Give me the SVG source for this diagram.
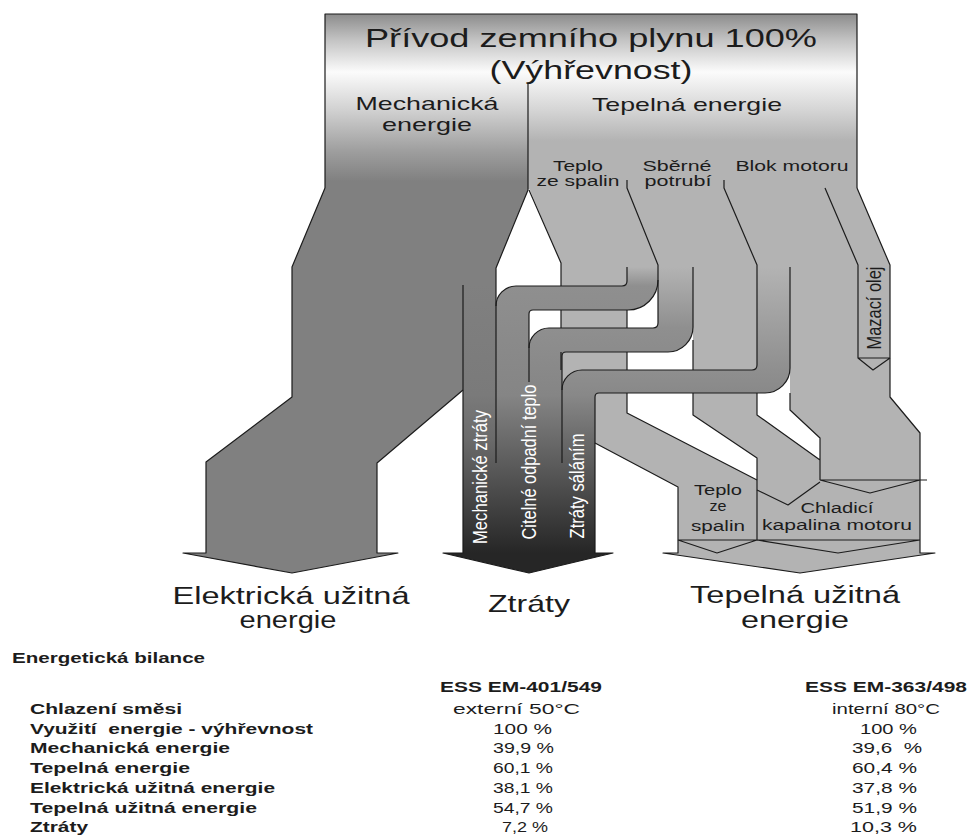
<svg xmlns="http://www.w3.org/2000/svg" width="970" height="836" viewBox="0 0 970 836">
<style>
text{font-family:"Liberation Sans",Arial,sans-serif;fill:#1c1c1c}
.t{text-anchor:middle}
.w{fill:#ffffff}
.b{font-weight:bold}
.ln{fill:none;stroke:#1c1c1c;stroke-width:1.2;stroke-linejoin:round}
.lt{fill:#b3b3b3}
</style>
<defs>
<linearGradient id="gTopL" gradientUnits="userSpaceOnUse" x1="0" y1="14" x2="0" y2="190">
<stop offset="0" stop-color="#8c8c8c"/><stop offset="0.15" stop-color="#c4c4c4"/><stop offset="0.33" stop-color="#fbfbfb"/><stop offset="0.55" stop-color="#d0d0d0"/><stop offset="0.78" stop-color="#9e9e9e"/><stop offset="0.95" stop-color="#808080"/><stop offset="1" stop-color="#808080"/>
</linearGradient>
<linearGradient id="gTopR" gradientUnits="userSpaceOnUse" x1="0" y1="14" x2="0" y2="190">
<stop offset="0" stop-color="#8c8c8c"/><stop offset="0.15" stop-color="#c4c4c4"/><stop offset="0.33" stop-color="#fbfbfb"/><stop offset="0.55" stop-color="#d4d4d4"/><stop offset="0.72" stop-color="#b3b3b3"/><stop offset="1" stop-color="#b3b3b3"/>
</linearGradient>
<linearGradient id="gMZ" gradientUnits="userSpaceOnUse" x1="0" y1="285" x2="0" y2="553">
<stop offset="0" stop-color="#808080"/><stop offset="0.41" stop-color="#7a7a7a"/><stop offset="0.58" stop-color="#6a6a6a"/><stop offset="1" stop-color="#262626"/>
</linearGradient>
<linearGradient id="gPA" gradientUnits="userSpaceOnUse" x1="0" y1="267" x2="0" y2="553">
<stop offset="0" stop-color="#b3b3b3"/><stop offset="0.066" stop-color="#8f8f8f"/><stop offset="0.448" stop-color="#858585"/><stop offset="0.605" stop-color="#6a6a6a"/><stop offset="1" stop-color="#262626"/>
</linearGradient>
<linearGradient id="gPB" gradientUnits="userSpaceOnUse" x1="0" y1="267" x2="0" y2="553">
<stop offset="0" stop-color="#b3b3b3"/><stop offset="0.213" stop-color="#8f8f8f"/><stop offset="0.448" stop-color="#858585"/><stop offset="0.605" stop-color="#6a6a6a"/><stop offset="1" stop-color="#262626"/>
</linearGradient>
<linearGradient id="gPC" gradientUnits="userSpaceOnUse" x1="0" y1="267" x2="0" y2="553">
<stop offset="0" stop-color="#b3b3b3"/><stop offset="0.36" stop-color="#8f8f8f"/><stop offset="0.448" stop-color="#888888"/><stop offset="0.605" stop-color="#6a6a6a"/><stop offset="1" stop-color="#262626"/>
</linearGradient>
</defs>
<rect width="970" height="836" fill="#ffffff"/>

<g id="thermal-teplo-ze-spalin">
<path class="lt" d="M529,188 L627,188 L658,265 L658,280 L627,280 L627,413 L757,480 L757,540 L678,540 L678,487 L595,443 L595,393 L561,393 L561,263 Z"/>
</g>
<g id="thermal-sberne-potrubi">
<path class="lt" d="M627,188 L724,188 L757,265 L757,415 L820,460 L820,540 L757,540 L757,458 L693,415 L693,327 L658,327 L658,265 Z"/>
</g>
<g id="thermal-blok-motoru">
<path class="lt" d="M724,188 L857,188 L890,265 L890,397 L920,433 L920,540 L820,540 L820,438 L790,410 L790,368 L757,368 L757,265 Z"/>
</g>
<g id="output-tepelna">
<path class="lt" d="M678,540 L920,540 L920,553 L935,553 L800,573 L663,553 L678,553 Z"/>
</g>
<g id="losses">
<path fill="url(#gMZ)" d="M463,285 L496,285 L496,400 L595,400 L595,553 L613,553 L529,573 L443,553 L463,553 Z"/>
</g>
<g id="mech">
<path fill="#808080" d="M325,186 L528,186 L528,190 L496,268 L496,285 L463,285 L463,390 L377,463 L377,553 L398,553 L292,573 L183,553 L206,553 L206,462 L292,397 L292,267 L325,188 Z"/>
</g>
<g id="input">
<rect x="325" y="14" width="203" height="175" fill="url(#gTopL)"/>
<rect x="528" y="14" width="329" height="175" fill="url(#gTopR)"/>
</g>

<g id="connectors">
<path fill="url(#gPA)" d="M627,267 L658,267 L658,280 A30,30 0 0 1 628,310 L533,310 Q529,310 529,314 L529,553 L496,553 L496,306 A20,20 0 0 1 516,286 L622,286 Q627,286 627,281 Z"/>
<path fill="url(#gPB)" d="M658,267 L693,267 L693,327 A25,25 0 0 1 668,352 L566,352 Q562,352 562,356 L562,553 L529,553 L529,348 A20,20 0 0 1 549,328 L653,328 Q658,328 658,323 Z"/>
<path fill="url(#gPC)" d="M757,267 L790,267 L790,368 A25,25 0 0 1 765,393 L599,393 Q595,393 595,397 L595,553 L562,553 L562,390 A20,20 0 0 1 582,370 L752,370 Q757,370 757,365 Z"/>
</g>

<g id="outlines">
<path class="ln" d="M325,188 L325,14 L857,14 L857,188"/>
<path class="ln" d="M325,188 L292,267 L292,397 L206,462 L206,553 L183,553 L292,573 L398,553 L377,553 L377,463 L463,390"/>
<path class="ln" d="M528,83 L528,190 L496,268 L496,463"/>
<path class="ln" d="M463,285 L463,553 L443,553 L529,573 L613,553 L595,553 L595,397 Q595,393 599,393 L765,393 A25,25 0 0 0 790,368 L790,267"/>
<path class="ln" d="M529,190 L561,263 L561,286 M561,310 L561,328 M561,352 L561,370"/>
<path class="ln" d="M627,267 L627,281 Q627,286 622,286 L516,286 A20,20 0 0 0 496,306"/>
<path class="ln" d="M529,382 L529,314 Q529,310 533,310 L628,310 A30,30 0 0 0 658,280"/>
<path class="ln" d="M627,180 L627,188 L658,265 L658,323 Q658,328 653,328 L549,328 A20,20 0 0 0 529,348"/>
<path class="ln" d="M693,267 L693,327 A25,25 0 0 1 668,352 L566,352 Q562,352 562,356 L562,463"/>
<path class="ln" d="M724,180 L724,188 L757,265 L757,365 Q757,370 752,370 L582,370 A20,20 0 0 0 562,390"/>
<path class="ln" d="M627,310 L627,328 M627,352 L627,370 M627,393 L627,413 L757,480"/>
<path class="ln" d="M595,443 L678,487 L678,553 L663,553 L800,573 L935,553 L920,553 L920,433 L890,397 L890,265 L857,188"/>
<path class="ln" d="M693,340 L693,370 M693,393 L693,415 L757,458 L757,540 M757,393 L757,415 L820,460 M790,393 L790,410 L820,438 L820,480"/>
<path class="ln" d="M825,188 L858,265 L858,358 L890,358 M858,358 L873,370 L890,358"/>
<path class="ln" d="M757,490 L788,505 L820,482 M820,480 L927,480 M820,480 L870,493 L920,480 M678,540 L920,540 M678,540 L717,553 L757,540 L838,553 L920,540"/>
</g>

<g id="labels">
<text class="t" x="591" y="47" font-size="26" textLength="452" lengthAdjust="spacingAndGlyphs">Přívod zemního plynu 100%</text>
<text class="t" x="591" y="79" font-size="26" textLength="203" lengthAdjust="spacingAndGlyphs">(Výhřevnost)</text>
<text class="t" x="427" y="110" font-size="19" textLength="143" lengthAdjust="spacingAndGlyphs">Mechanická</text>
<text class="t" x="427" y="131" font-size="19" textLength="90" lengthAdjust="spacingAndGlyphs">energie</text>
<text class="t" x="687" y="111" font-size="19" textLength="190" lengthAdjust="spacingAndGlyphs">Tepelná energie</text>
<text class="t" x="578" y="171" font-size="14" textLength="50" lengthAdjust="spacingAndGlyphs">Teplo</text>
<text class="t" x="578" y="186" font-size="14" textLength="83" lengthAdjust="spacingAndGlyphs">ze spalin</text>
<text class="t" x="677" y="171" font-size="14" textLength="69" lengthAdjust="spacingAndGlyphs">Sběrné</text>
<text class="t" x="678" y="186" font-size="14" textLength="67" lengthAdjust="spacingAndGlyphs">potrubí</text>
<text class="t" x="792" y="171" font-size="14.5" textLength="113" lengthAdjust="spacingAndGlyphs">Blok motoru</text>
<text class="t" transform="translate(881,308) scale(1.3,1) rotate(-90)" font-size="15" textLength="83" lengthAdjust="spacingAndGlyphs">Mazací olej</text>
<text class="t w" transform="translate(487,477) scale(1.3,1) rotate(-90)" font-size="16" textLength="134" lengthAdjust="spacingAndGlyphs">Mechanické ztráty</text>
<text class="t w" transform="translate(536,462) scale(1.3,1) rotate(-90)" font-size="16" textLength="155" lengthAdjust="spacingAndGlyphs">Citelné odpadní teplo</text>
<text class="t w" transform="translate(584,486) scale(1.3,1) rotate(-90)" font-size="16" textLength="105" lengthAdjust="spacingAndGlyphs">Ztráty sáláním</text>
<text class="t" x="718" y="495" font-size="14" textLength="48" lengthAdjust="spacingAndGlyphs">Teplo</text>
<text class="t" x="718" y="511" font-size="14" textLength="17" lengthAdjust="spacingAndGlyphs">ze</text>
<text class="t" x="718" y="531" font-size="14" textLength="54" lengthAdjust="spacingAndGlyphs">spalin</text>
<text class="t" x="837" y="513" font-size="14" textLength="73" lengthAdjust="spacingAndGlyphs">Chladicí</text>
<text class="t" x="837" y="530" font-size="14" textLength="150" lengthAdjust="spacingAndGlyphs">kapalina motoru</text>
<text class="t" x="291" y="604" font-size="23" textLength="237" lengthAdjust="spacingAndGlyphs">Elektrická užitná</text>
<text class="t" x="288" y="628" font-size="23" textLength="97" lengthAdjust="spacingAndGlyphs">energie</text>
<text class="t" x="529" y="612" font-size="24" textLength="82" lengthAdjust="spacingAndGlyphs">Ztráty</text>
<text class="t" x="795" y="603" font-size="23" textLength="210" lengthAdjust="spacingAndGlyphs">Tepelná užitná</text>
<text class="t" x="795" y="628" font-size="23" textLength="108" lengthAdjust="spacingAndGlyphs">energie</text>
</g>

<g id="table" font-size="15">
<text class="b" x="12" y="663" font-size="14" textLength="193" lengthAdjust="spacingAndGlyphs">Energetická bilance</text>
<text class="b" x="440" y="692" textLength="162" lengthAdjust="spacingAndGlyphs">ESS EM-401/549</text>
<text class="b" x="805" y="692" textLength="162" lengthAdjust="spacingAndGlyphs">ESS EM-363/498</text>
<text class="b" x="30" y="714" textLength="152" lengthAdjust="spacingAndGlyphs">Chlazení směsi</text>
<text class="b" x="30" y="733.7" textLength="283" lengthAdjust="spacingAndGlyphs" xml:space="preserve">Využití  energie - výhřevnost</text>
<text class="b" x="30" y="753.4" textLength="200" lengthAdjust="spacingAndGlyphs">Mechanická energie</text>
<text class="b" x="30" y="773.1" textLength="160" lengthAdjust="spacingAndGlyphs">Tepelná energie</text>
<text class="b" x="30" y="792.8" textLength="245" lengthAdjust="spacingAndGlyphs">Elektrická užitná energie</text>
<text class="b" x="30" y="812.5" textLength="227" lengthAdjust="spacingAndGlyphs">Tepelná užitná energie</text>
<text class="b" x="30" y="832.2" textLength="58" lengthAdjust="spacingAndGlyphs">Ztráty</text>
<text x="453" y="714" textLength="127" lengthAdjust="spacingAndGlyphs">externí 50°C</text>
<text x="493" y="733.7" textLength="59" lengthAdjust="spacingAndGlyphs">100 %</text>
<text x="493" y="753.4" textLength="61" lengthAdjust="spacingAndGlyphs">39,9 %</text>
<text x="493" y="773.1" textLength="60" lengthAdjust="spacingAndGlyphs">60,1 %</text>
<text x="493" y="792.8" textLength="60" lengthAdjust="spacingAndGlyphs">38,1 %</text>
<text x="493" y="812.5" textLength="60" lengthAdjust="spacingAndGlyphs">54,7 %</text>
<text x="502" y="832.2" textLength="46" lengthAdjust="spacingAndGlyphs">7,2 %</text>
<text x="832" y="714" textLength="108" lengthAdjust="spacingAndGlyphs">interní 80°C</text>
<text x="860" y="733.7" textLength="57" lengthAdjust="spacingAndGlyphs">100 %</text>
<text x="852" y="753.4" textLength="70" lengthAdjust="spacingAndGlyphs" xml:space="preserve">39,6  %</text>
<text x="852" y="773.1" textLength="65" lengthAdjust="spacingAndGlyphs">60,4 %</text>
<text x="852" y="792.8" textLength="65" lengthAdjust="spacingAndGlyphs">37,8 %</text>
<text x="852" y="812.5" textLength="65" lengthAdjust="spacingAndGlyphs">51,9 %</text>
<text x="850" y="832.2" textLength="67" lengthAdjust="spacingAndGlyphs">10,3 %</text>
</g>
</svg>
